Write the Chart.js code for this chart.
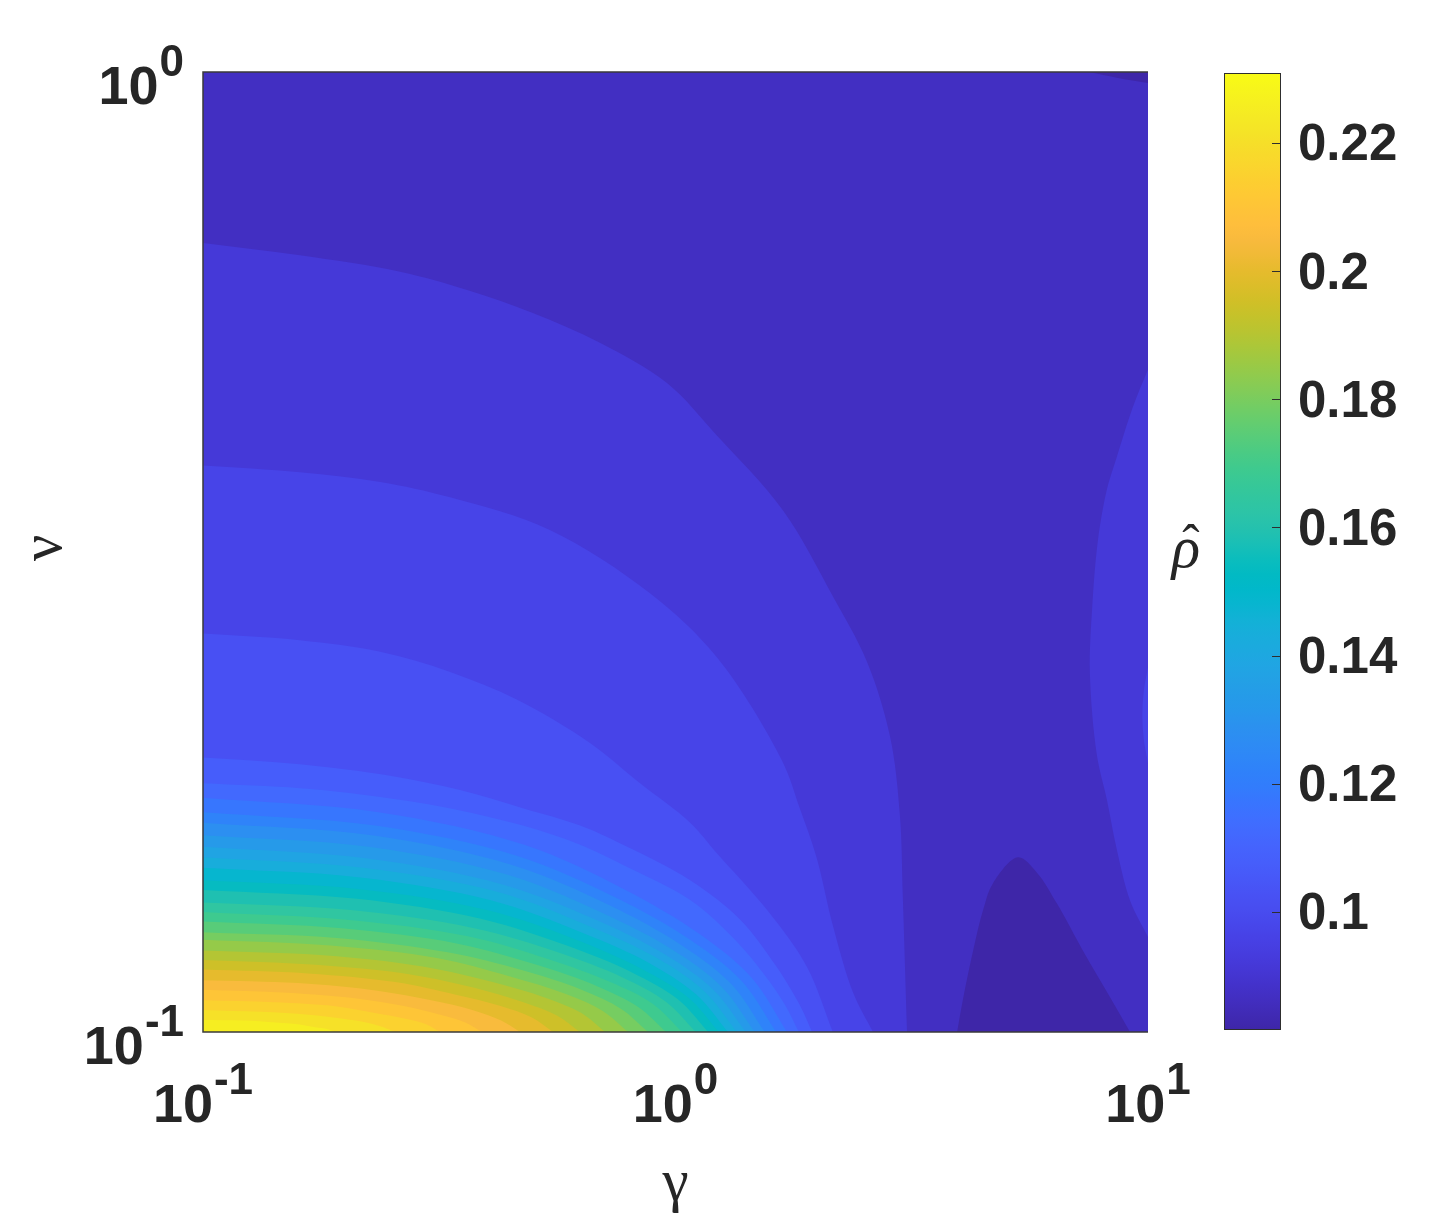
<!DOCTYPE html>
<html>
<head>
<meta charset="utf-8">
<script src="https://cdn.jsdelivr.net/npm/chart.js@4.4.1/dist/chart.umd.min.js"></script>
<style>
html,body{margin:0;padding:0;background:#fff;}
#wrap{position:relative;width:1435px;height:1218px;overflow:hidden;}
#main{position:absolute;left:0;top:0;}
#cbar{position:absolute;left:1200px;top:0;}
</style>
</head>
<body>
<div id="wrap">
<canvas id="main" width="1435" height="1218"></canvas>
<canvas id="cbar" width="235" height="1218"></canvas>
</div>
<script>
// ---------------- data ----------------
const gammaTicks = [0.1, 1, 10];
const nuTicks = [0.1, 1];
const colorbarTicks = [0.1, 0.12, 0.14, 0.16, 0.18, 0.2, 0.22];
const rhoRange = [0.0815, 0.231];
const rhoLevels = [0.0815, 0.08666, 0.09181, 0.09697, 0.10212, 0.10728, 0.11243, 0.11759,
  0.12274, 0.1279, 0.13305, 0.13821, 0.14336, 0.14852, 0.15367, 0.15883, 0.16398, 0.16914,
  0.17429, 0.17945, 0.1846, 0.18976, 0.19491, 0.20007, 0.20522, 0.21038, 0.21553, 0.22069,
  0.22584, 0.231];
// level of the region lying beyond each traced contour (region filled with that level's colour)
const bandLevel = [0, 0, 2, 2, 3, 3, 4, 5, 6, 7, 8, 9, 10, 11, 12, 13, 14, 15, 16, 17, 18,
  19, 20, 21, 22, 23, 24, 25, 26, 27, 28];
// how each traced contour closes: along the plot edge, through the lower-left or top-right corner
const bandClose = ['edge', 'topRight', 'edge', 'lowerLeft', 'lowerLeft', 'edge',
  'lowerLeft', 'lowerLeft', 'lowerLeft', 'lowerLeft', 'lowerLeft', 'lowerLeft', 'lowerLeft',
  'lowerLeft', 'lowerLeft', 'lowerLeft', 'lowerLeft', 'lowerLeft', 'lowerLeft', 'lowerLeft',
  'lowerLeft', 'lowerLeft', 'lowerLeft', 'lowerLeft', 'lowerLeft', 'lowerLeft', 'lowerLeft',
  'lowerLeft', 'lowerLeft', 'lowerLeft', 'lowerLeft'];
// contour points, log10(gamma)
const bandLogGamma = [
  [0.596, 0.608, 0.630, 0.651, 0.672, 0.725, 0.765, 0.807, 0.862, 0.920, 0.962],
  [0.877, 0.934, 1.0],
  [1.0, 0.968, 0.934, 0.913, 0.894, 0.882, 0.877, 0.892, 0.913, 0.934, 0.962, 1.0],
  [-1, -0.795, -0.583, -0.441, -0.302, -0.160, -0.018, 0.088, 0.228, 0.333, 0.405, 0.454, 0.475, 0.481, 0.490],
  [-1, -0.795, -0.625, -0.477, -0.266, -0.054, 0.088, 0.225, 0.263, 0.299, 0.333, 0.376, 0.418],
  [1.0, 0.991, 0.988, 0.991, 1.0],
  [-1, -0.795, -0.625, -0.477, -0.335, -0.181, -0.075, 0.031, 0.088, 0.194, 0.278, 0.333],
  [-1, -0.795, -0.604, -0.456, -0.323, -0.202, -0.111, 0.031, 0.137, 0.211, 0.263, 0.289],
  [-1, -0.795, -0.674, -0.498, -0.323, -0.202, -0.111, 0.031, 0.126, 0.189, 0.232, 0.261],
  [-1, -0.629, -0.320, -0.110, 0.051, 0.162, 0.236],
  [-1, -0.636, -0.333, -0.127, 0.031, 0.140, 0.213],
  [-1, -0.643, -0.346, -0.144, 0.011, 0.118, 0.189],
  [-1, -0.650, -0.357, -0.159, -0.007, 0.098, 0.168],
  [-1, -0.655, -0.368, -0.173, -0.023, 0.080, 0.149],
  [-1, -0.661, -0.378, -0.186, -0.039, 0.062, 0.130],
  [-1, -0.667, -0.389, -0.200, -0.056, 0.044, 0.111],
  [-1, -0.672, -0.399, -0.214, -0.072, 0.027, 0.092],
  [-1, -0.679, -0.412, -0.230, -0.092, 0.005, 0.069],
  [-1, -0.687, -0.426, -0.249, -0.113, -0.019, 0.043],
  [-1, -0.696, -0.442, -0.270, -0.138, -0.047, 0.014],
  [-1, -0.706, -0.461, -0.294, -0.167, -0.079, -0.020],
  [-1, -0.717, -0.482, -0.322, -0.199, -0.115, -0.058],
  [-1, -0.730, -0.505, -0.352, -0.235, -0.154, -0.100],
  [-1, -0.745, -0.532, -0.387, -0.277, -0.200, -0.149],
  [-1, -0.761, -0.561, -0.426, -0.322, -0.250, -0.202],
  [-1, -0.778, -0.593, -0.467, -0.370, -0.304, -0.259],
  [-1, -0.799, -0.631, -0.517, -0.430, -0.369, -0.329],
  [-1, -0.823, -0.675, -0.575, -0.498, -0.445, -0.409],
  [-1, -0.850, -0.724, -0.639, -0.574, -0.528, -0.498],
  [-1, -0.878, -0.777, -0.707, -0.655, -0.618, -0.594],
  [-1, -0.916, -0.846, -0.799, -0.763, -0.737, -0.721]
];
// contour points, log10(nu)
const bandLogNu = [
  [-1, -0.967, -0.915, -0.873, -0.845, -0.818, -0.834, -0.866, -0.915, -0.964, -1],
  [0, -0.006, -0.0115],
  [-0.310, -0.349, -0.401, -0.435, -0.488, -0.557, -0.626, -0.712, -0.758, -0.810, -0.863, -0.901],
  [-0.178, -0.191, -0.208, -0.227, -0.251, -0.282, -0.324, -0.379, -0.457, -0.546, -0.614, -0.692, -0.775, -0.858, -1],
  [-0.410, -0.417, -0.427, -0.443, -0.477, -0.543, -0.610, -0.717, -0.767, -0.819, -0.889, -0.959, -1],
  [-0.620, -0.645, -0.670, -0.695, -0.720],
  [-0.585, -0.592, -0.604, -0.625, -0.654, -0.699, -0.741, -0.782, -0.814, -0.873, -0.932, -1],
  [-0.714, -0.721, -0.733, -0.748, -0.767, -0.785, -0.805, -0.842, -0.883, -0.930, -0.972, -1],
  [-0.741, -0.746, -0.752, -0.765, -0.785, -0.805, -0.826, -0.8625, -0.904, -0.941, -0.972, -1],
  [-0.756, -0.771, -0.805, -0.851, -0.898, -0.944, -1],
  [-0.771, -0.785, -0.817, -0.860, -0.904, -0.947, -1],
  [-0.782, -0.795, -0.826, -0.867, -0.909, -0.950, -1],
  [-0.795, -0.807, -0.836, -0.875, -0.914, -0.953, -1],
  [-0.807, -0.819, -0.846, -0.882, -0.919, -0.956, -1],
  [-0.818, -0.829, -0.854, -0.889, -0.923, -0.958, -1],
  [-0.829, -0.839, -0.863, -0.896, -0.928, -0.961, -1],
  [-0.842, -0.851, -0.873, -0.903, -0.934, -0.964, -1],
  [-0.852, -0.861, -0.882, -0.910, -0.938, -0.966, -1],
  [-0.865, -0.873, -0.892, -0.917, -0.943, -0.969, -1],
  [-0.875, -0.883, -0.900, -0.924, -0.948, -0.971, -1],
  [-0.885, -0.892, -0.908, -0.930, -0.952, -0.974, -1],
  [-0.896, -0.902, -0.917, -0.936, -0.956, -0.976, -1],
  [-0.904, -0.910, -0.923, -0.942, -0.960, -0.978, -1],
  [-0.915, -0.920, -0.932, -0.948, -0.964, -0.980, -1],
  [-0.925, -0.930, -0.940, -0.954, -0.969, -0.983, -1],
  [-0.935, -0.939, -0.948, -0.961, -0.973, -0.985, -1],
  [-0.946, -0.949, -0.957, -0.967, -0.977, -0.988, -1],
  [-0.956, -0.959, -0.965, -0.973, -0.982, -0.990, -1],
  [-0.967, -0.969, -0.973, -0.980, -0.986, -0.992, -1],
  [-0.977, -0.979, -0.982, -0.986, -0.990, -0.995, -1],
  [-0.9875, -0.988, -0.990, -0.992, -0.995, -0.997, -1]
];
const xTitle = 'γ';
const yTitle = 'ν';
const cbTitle = 'ρ';
const cbTitleAccent = 'ˆ';

// ---------------- styling ----------------
const parula = ['#3E26A8','#402AB4','#422EC0','#4332CB','#4537D5','#463CDE','#4741E5','#4747EB',
'#484DF0','#4852F4','#4758F8','#465EFB','#4563FD','#4269FE','#3E6FFF','#3875FE','#327CFC','#2F81FA',
'#2E87F7','#2D8CF3','#2B91EF','#2797EB','#259BE8','#23A0E5','#20A5E3','#1CA9DF','#18ADDB','#12B1D6',
'#08B5D0','#01B8CA','#02BAC3','#0BBDBD','#19BFB6','#24C1AE','#2CC4A7','#31C69F','#37C897','#3FCA8E',
'#4ACB84','#57CC7A','#64CD6F','#72CD64','#81CC59','#8FCB4E','#9DC943','#ABC739','#B9C431','#C5C22A',
'#D1BF27','#DCBD29','#E6BB2D','#F0BA36','#F8BA3D','#FEBE3C','#FEC338','#FEC934','#FCCF30','#FAD62D',
'#F7DC2A','#F5E327','#F5E924','#F6EF20','#F7F51B','#F9FB15'];
const TEXT = '#262626';
const FONT_SANS = '"Liberation Sans", Arial, Helvetica, sans-serif';
const FONT_SERIF = '"Liberation Serif", "Times New Roman", "DejaVu Serif", serif';

function hexToRgb(h){ return [parseInt(h.slice(1,3),16), parseInt(h.slice(3,5),16), parseInt(h.slice(5,7),16)]; }
const parulaRgb = parula.map(hexToRgb);
function colorFor(v){
  let f = (v - rhoRange[0]) / (rhoRange[1] - rhoRange[0]);
  f = Math.max(0, Math.min(1, f));
  const p = f * (parulaRgb.length - 1);
  const i = Math.min(Math.floor(p), parulaRgb.length - 2);
  const t = p - i;
  const a = parulaRgb[i], b = parulaRgb[i+1];
  const c = a.map((av, k) => Math.round(av + (b[k] - av) * t));
  return 'rgb(' + c.join(',') + ')';
}

// centripetal Catmull-Rom through the traced contour points
function smoothTo(ctx, pts){
  ctx.moveTo(pts[0][0], pts[0][1]);
  const dist = (a, b) => Math.hypot(b[0]-a[0], b[1]-a[1]);
  for (let i = 0; i < pts.length - 1; i++){
    const p1 = pts[i], p2 = pts[i+1];
    const p0 = pts[i-1], p3 = pts[i+2];
    let b1, b2;
    const L2 = dist(p1, p2), d2 = Math.sqrt(L2);
    if (p0){
      const L1 = dist(p0, p1), d1 = Math.sqrt(L1);
      b1 = [0, 1].map(k => (L1 * p2[k] - L2 * p0[k] + (2*L1 + 3*d1*d2 + L2) * p1[k]) / (3 * d1 * (d1 + d2)));
    } else {
      b1 = [p1[0] + (p2[0]-p1[0])/3, p1[1] + (p2[1]-p1[1])/3];
    }
    if (p3){
      const L3 = dist(p2, p3), d3 = Math.sqrt(L3);
      b2 = [0, 1].map(k => (L3 * p1[k] - L2 * p3[k] + (2*L3 + 3*d3*d2 + L2) * p2[k]) / (3 * d3 * (d3 + d2)));
    } else {
      b2 = [p2[0] - (p2[0]-p1[0])/3, p2[1] - (p2[1]-p1[1])/3];
    }
    ctx.bezierCurveTo(b1[0], b1[1], b2[0], b2[1], p2[0], p2[1]);
  }
}

const contourFill = {
  id: 'contourFill',
  beforeDatasetsDraw(chart){
    const {ctx, chartArea: a, scales: {x, y}} = chart;
    ctx.save();
    ctx.beginPath();
    ctx.rect(a.left, a.top, a.right - a.left, a.bottom - a.top);
    ctx.clip();
    ctx.fillStyle = colorFor(rhoLevels[1]);
    ctx.fillRect(a.left, a.top, a.right - a.left, a.bottom - a.top);
    chart.data.datasets.forEach(ds => {
      const pts = ds.data.map(p => [x.getPixelForValue(p.x), y.getPixelForValue(p.y)]);
      ctx.beginPath();
      smoothTo(ctx, pts);
      if (ds.closeMode === 'lowerLeft') ctx.lineTo(x.getPixelForValue(x.min), y.getPixelForValue(y.min));
      if (ds.closeMode === 'topRight') ctx.lineTo(x.getPixelForValue(x.max), y.getPixelForValue(y.max));
      ctx.closePath();
      ctx.fillStyle = ds.backgroundColor;
      ctx.fill();
    });
    ctx.restore();
  }
};

const axesDecor = {
  id: 'axesDecor',
  afterDraw(chart){
    const {ctx, chartArea: a, scales: {x, y}} = chart;
    ctx.save();
    ctx.strokeStyle = '#3a3a3a';
    ctx.lineWidth = 1.5;
    ctx.beginPath();
    ctx.moveTo(a.right, a.top); ctx.lineTo(a.left, a.top); ctx.lineTo(a.left, a.bottom); ctx.lineTo(a.right, a.bottom);
    ctx.stroke();

    const baseFont = 'bold 54px ' + FONT_SANS;
    const supFont = 'bold 44px ' + FONT_SANS;
    ctx.fillStyle = TEXT;
    ctx.textBaseline = 'alphabetic';
    ctx.textAlign = 'left';
    gammaTicks.forEach(v => {
      const px = x.getPixelForValue(v);
      const e = String(Math.round(Math.log10(v)));
      ctx.font = baseFont; const wb = ctx.measureText('10').width;
      ctx.font = supFont; const we = ctx.measureText(e).width;
      const start = px - (wb + we + 1) / 2;
      ctx.font = baseFont; ctx.fillText('10', start, a.bottom + 90);
      ctx.font = supFont; ctx.fillText(e, start + wb + 1, a.bottom + 62);
    });
    nuTicks.forEach(v => {
      const py = y.getPixelForValue(v);
      const e = String(Math.round(Math.log10(v)));
      ctx.font = baseFont; const wb = ctx.measureText('10').width;
      ctx.font = supFont; const we = ctx.measureText(e).width;
      const right = a.left - 19;
      ctx.font = supFont; ctx.fillText(e, right - we, py + 4);
      ctx.font = baseFont; ctx.fillText('10', right - we - 1 - wb, py + 32);
    });

    ctx.font = '59px ' + FONT_SERIF;
    ctx.textAlign = 'center';
    ctx.fillText(xTitle, (a.left + a.right) / 2, 1200);
    ctx.save();
    ctx.translate(61, 548);
    ctx.rotate(-Math.PI / 2);
    ctx.fillText(yTitle, 0, 0);
    ctx.restore();
    ctx.font = 'italic 59px ' + FONT_SERIF;
    ctx.fillText(cbTitle, 1186, 567);
    ctx.font = '52px ' + FONT_SERIF;
    ctx.fillText(cbTitleAccent, 1191, 561);
    ctx.restore();
  }
};

const datasets = bandLevel.map((lev, i) => ({
  label: 'rho level ' + rhoLevels[lev],
  data: bandLogGamma[i].map((g, j) => ({x: Math.pow(10, g), y: Math.pow(10, bandLogNu[i][j])})),
  backgroundColor: colorFor(rhoLevels[lev]),
  pointRadius: 0,
  showLine: false,
  closeMode: bandClose[i]
}));

new Chart(document.getElementById('main'), {
  type: 'scatter',
  data: { datasets },
  options: {
    responsive: false,
    animation: false,
    events: [],
    layout: { padding: { left: 0, right: 287, top: 72, bottom: 0 } },
    scales: {
      x: {
        type: 'logarithmic', min: 0.1, max: 10, position: 'bottom',
        ticks: { display: false }, grid: { display: false }, border: { display: false },
        afterFit: s => { s.height = 186; }
      },
      y: {
        type: 'logarithmic', min: 0.1, max: 1, position: 'left',
        ticks: { display: false }, grid: { display: false }, border: { display: false },
        afterFit: s => { s.width = 203; }
      }
    },
    plugins: { legend: { display: false }, tooltip: { enabled: false }, title: { display: false } }
  },
  plugins: [contourFill, axesDecor]
});

// ---------------- colorbar ----------------
const cbDecor = {
  id: 'cbDecor',
  afterDatasetsDraw(chart){
    const {ctx, chartArea: a, scales: {y}} = chart;
    ctx.save();
    ctx.strokeStyle = '#2e2e2e';
    ctx.lineWidth = 1;
    ctx.strokeRect(a.left + 0.5, a.top + 0.5, a.right - a.left - 1, a.bottom - a.top - 1);
    ctx.beginPath();
    colorbarTicks.forEach(v => {
      const py = Math.round(y.getPixelForValue(v)) + 0.5;
      ctx.moveTo(a.right - 9, py); ctx.lineTo(a.right, py);
    });
    ctx.stroke();
    ctx.restore();
  }
};

new Chart(document.getElementById('cbar'), {
  type: 'bar',
  data: {
    labels: ['rho'],
    datasets: [{
      data: [[rhoRange[0], rhoRange[1]]],
      backgroundColor: c => {
        const ch = c.chart;
        if (!ch.chartArea) return parula[0];
        const ys = ch.scales.y;
        const g = ch.ctx.createLinearGradient(0, ys.getPixelForValue(rhoRange[0]), 0, ys.getPixelForValue(rhoRange[1]));
        parula.forEach((col, i) => g.addColorStop(i / (parula.length - 1), col));
        return g;
      },
      borderWidth: 0,
      barPercentage: 1,
      categoryPercentage: 1
    }]
  },
  options: {
    responsive: false,
    animation: false,
    events: [],
    layout: { padding: { left: 24, right: 0, top: 73, bottom: 188 } },
    scales: {
      x: { display: false },
      y: {
        position: 'right', min: rhoRange[0], max: rhoRange[1],
        afterBuildTicks: s => { s.ticks = colorbarTicks.map(v => ({ value: v })); },
        ticks: {
          padding: 9, color: TEXT, labelOffset: 3,
          font: { family: FONT_SANS, size: 51, weight: 'bold' },
          callback: v => String(v)
        },
        grid: { display: false }, border: { display: false },
        afterFit: s => { s.width = 154; }
      }
    },
    plugins: { legend: { display: false }, tooltip: { enabled: false } }
  },
  plugins: [cbDecor]
});
</script>
</body>
</html>
